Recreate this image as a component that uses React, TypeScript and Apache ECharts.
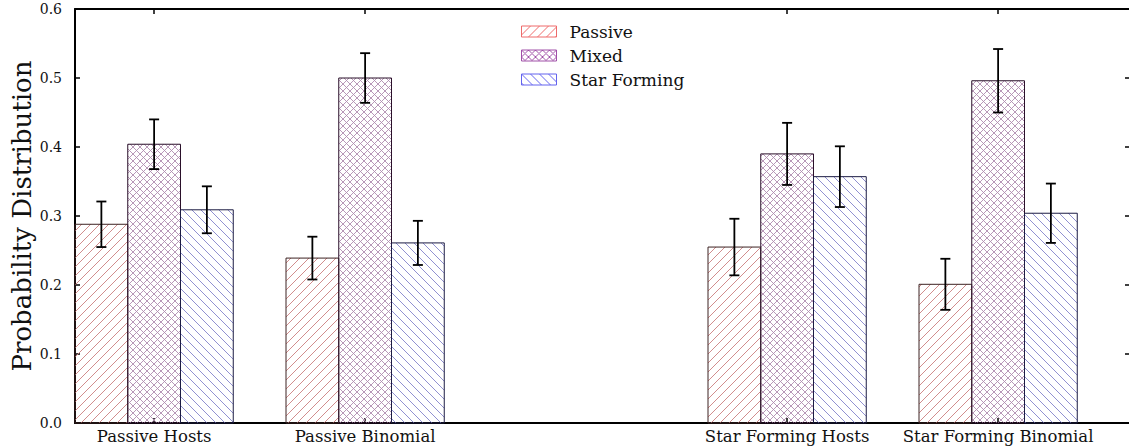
import React, { useEffect, useRef } from "react";
import * as echarts from "echarts";

const categories = ["Passive Hosts", "Passive Binomial", "Star Forming Hosts", "Star Forming Binomial"];
const positions = [0, 1, 3, 4];
const passive = [0.288, 0.239, 0.255, 0.201];
const passiveErr = [0.033, 0.031, 0.041, 0.037];
const mixed = [0.404, 0.5, 0.39, 0.496];
const mixedErr = [0.036, 0.036, 0.045, 0.046];
const starForming = [0.309, 0.261, 0.357, 0.304];
const starFormingErr = [0.034, 0.032, 0.044, 0.043];
const yTicks = [0, 0.1, 0.2, 0.3, 0.4, 0.5, 0.6];

const FONT = "DejaVu Serif";
const BAR_W = 0.25;

function makeHatch(size: number, color: string, dirs: string[], lw: number) {
  const c = document.createElement("canvas");
  c.width = size;
  c.height = size;
  const ctx = c.getContext("2d")!;
  ctx.strokeStyle = color;
  ctx.lineWidth = lw;
  for (const d of dirs) {
    for (const k of [-size, 0, size]) {
      ctx.beginPath();
      if (d === "/") {
        ctx.moveTo(k, size);
        ctx.lineTo(k + size, 0);
      } else {
        ctx.moveTo(k, 0);
        ctx.lineTo(k + size, size);
      }
      ctx.stroke();
    }
  }
  return { image: c, repeat: "repeat", imageWidth: size, imageHeight: size } as any;
}

export default function App() {
  const ref = useRef<HTMLDivElement>(null);
  useEffect(() => {
    document.body.style.margin = "0";
    if (!ref.current) return;
    const chart = echarts.init(ref.current, undefined, { renderer: "svg" });

    const groups = [
      { name: "Passive", vals: passive, errs: passiveErr, off: -BAR_W, hatch: "#cc8080", edge: "#3c2222", dirs: ["/"], size: 9, legendBorder: "#ee6a6a" },
      { name: "Mixed", vals: mixed, errs: mixedErr, off: 0, hatch: "#b08cb0", edge: "#2a102a", dirs: ["/", "\\"], size: 7, legendBorder: "#a050a8" },
      { name: "Star Forming", vals: starForming, errs: starFormingErr, off: BAR_W, hatch: "#8484cc", edge: "#1c1c44", dirs: ["\\"], size: 9, legendBorder: "#6464ee" },
    ];

    const barSeries = groups.map((g) => {
      const pattern = makeHatch(g.size, g.hatch, g.dirs, 0.9);
      return {
        name: g.name,
        type: "custom",
        xAxisIndex: 0,
        yAxisIndex: 0,
        itemStyle: { color: pattern, borderColor: g.legendBorder, borderWidth: 1 },
        encode: { x: 0, y: 1 },
        data: positions.map((p, i) => [p, g.vals[i]]),
        z: 2,
        renderItem: (params: any, api: any) => {
          const x = api.value(0) + g.off;
          const y = api.value(1);
          const p0 = api.coord([x - BAR_W / 2, y]);
          const p1 = api.coord([x + BAR_W / 2, 0]);
          return {
            type: "rect",
            shape: { x: p0[0], y: p0[1], width: p1[0] - p0[0], height: p1[1] - p0[1] },
            style: { fill: pattern, stroke: g.edge, lineWidth: 1 },
          };
        },
      };
    });

    const errSeries = groups.map((g) => ({
      name: g.name + " err",
      type: "custom",
      xAxisIndex: 0,
      yAxisIndex: 0,
      encode: { x: 0, y: [1, 2] },
      data: positions.map((p, i) => [p, g.vals[i] - g.errs[i], g.vals[i] + g.errs[i]]),
      z: 5,
      renderItem: (params: any, api: any) => {
        const x = api.value(0) + g.off;
        const lo = api.coord([x, api.value(1)]);
        const hi = api.coord([x, api.value(2)]);
        const cw = 5;
        const st = { stroke: "#000", lineWidth: 1.8 };
        return {
          type: "group",
          children: [
            { type: "line", shape: { x1: lo[0], y1: lo[1], x2: hi[0], y2: hi[1] }, style: st },
            { type: "line", shape: { x1: lo[0] - cw, y1: lo[1], x2: lo[0] + cw, y2: lo[1] }, style: st },
            { type: "line", shape: { x1: hi[0] - cw, y1: hi[1], x2: hi[0] + cw, y2: hi[1] }, style: st },
          ],
        };
      },
    }));

    const xMin = -0.375;
    const xMax = 4.625;

    chart.setOption({
      animation: false,
      backgroundColor: "#fff",
      grid: { left: 75, top: 9, width: 1055, height: 414, containLabel: false, outerBoundsMode: "none" },
      legend: {
        orient: "vertical",
        left: 521,
        top: 18,
        padding: [5, 5, 5, 0],
        itemWidth: 35,
        itemHeight: 11,
        itemGap: 7,
        icon: "rect",
        textStyle: { fontFamily: FONT, fontSize: 17, color: "#111", padding: [0, 0, 0, 8] },
        data: groups.map((g) => ({
          name: g.name,
          icon: "rect",
          itemStyle: { color: makeHatch(g.size, g.legendBorder, g.dirs, 1), borderColor: g.legendBorder, borderWidth: 1 },
        })),
      },
      xAxis: [
        {
          type: "value",
          position: "bottom",
          min: xMin,
          max: xMax,
          axisLine: { show: true, onZero: false, lineStyle: { color: "#000", width: 2 } },
          axisTick: { show: true, inside: true, length: 5, customValues: positions, lineStyle: { color: "#000", width: 1.5 } },
          axisLabel: {
            show: true,
            customValues: positions,
            margin: 5,
            fontFamily: FONT,
            fontSize: 16.5,
            color: "#111",
            formatter: (v: number) => {
              const i = positions.indexOf(Math.round(v));
              return i >= 0 ? categories[i] : "";
            },
          },
          splitLine: { show: false },
        },
        {
          type: "value",
          position: "top",
          min: xMin,
          max: xMax,
          axisLine: { show: true, onZero: false, lineStyle: { color: "#000", width: 2 } },
          axisTick: { show: true, inside: true, length: 5, customValues: positions, lineStyle: { color: "#000", width: 1.5 } },
          axisLabel: { show: false },
          splitLine: { show: false },
        },
      ],
      yAxis: [
        {
          type: "value",
          position: "left",
          min: 0,
          max: 0.6,
          interval: 0.1,
          name: "Probability Distribution",
          nameLocation: "middle",
          nameGap: 40,
          nameMoveOverlap: false,
          nameRotate: 90,
          nameTextStyle: { fontFamily: FONT, fontSize: 26, color: "#111" },
          axisLine: { show: true, onZero: false, lineStyle: { color: "#000", width: 2 } },
          axisTick: { show: true, inside: true, length: 5, lineStyle: { color: "#000", width: 1.5 } },
          axisLabel: {
            show: true,
            margin: 13,
            fontFamily: FONT,
            fontSize: 14,
            color: "#111",
            customValues: yTicks,
            formatter: (v: number) => v.toFixed(1),
          },
          splitLine: { show: false },
        },
        {
          type: "value",
          position: "right",
          min: 0,
          max: 0.6,
          interval: 0.1,
          axisLine: { show: false, onZero: false },
          axisTick: { show: true, inside: true, length: 5, lineStyle: { color: "#000", width: 1.5 } },
          axisLabel: { show: false },
          splitLine: { show: false },
        },
      ],
      series: [...barSeries, ...errSeries],
    });
    return () => chart.dispose();
  }, []);
  return <div ref={ref} style={{ width: 1129, height: 448 }} />;
}
